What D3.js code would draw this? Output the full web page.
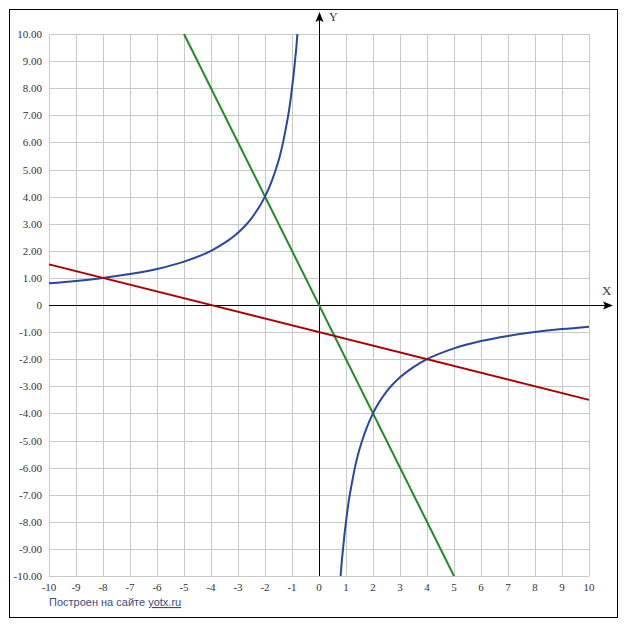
<!DOCTYPE html>
<html>
<head>
<meta charset="utf-8">
<script src="https://cdn.jsdelivr.net/npm/d3@7"></script>
<style>
  body { margin: 0; background: #fff; }
  .tick-label { font-family: "Liberation Serif", serif; font-size: 11px; fill: #333; }
</style>
</head>
<body>
<script>
// axis ranges and tick labels
var xTicks = [-10,-9,-8,-7,-6,-5,-4,-3,-2,-1,0,1,2,3,4,5,6,7,8,9,10];
var yTicks = [-10,-9,-8,-7,-6,-5,-4,-3,-2,-1,0,1,2,3,4,5,6,7,8,9,10];

// blue curve, left branch
var blueLeftX = [-10,-9,-8,-7,-6,-5,-4,-3.5,-3,-2.5,-2,-1.75,-1.6,-1.45,-1.33,-1.2,-1.14,-1.05,-1,-0.94,-0.89,-0.84,-0.8];
var blueLeftY = [0.8,0.89,1,1.14,1.33,1.6,2,2.29,2.67,3.2,4,4.57,5,5.5,6,6.67,7,7.6,8,8.5,9,9.5,10];
// blue curve, right branch
var blueRightX = [0.8,0.84,0.89,0.94,1,1.05,1.14,1.2,1.33,1.45,1.6,1.75,2,2.5,3,3.5,4,5,6,7,8,9,10];
var blueRightY = [-10,-9.5,-9,-8.5,-8,-7.6,-7,-6.67,-6,-5.5,-5,-4.57,-4,-3.2,-2.67,-2.29,-2,-1.6,-1.33,-1.14,-1,-0.89,-0.8];
// green line
var greenX = [-5, 5];
var greenY = [10, -10];
// red line
var redX = [-10, 10];
var redY = [1.5, -3.5];

var W = 627, H = 630;
var pLeft = 49, pRight = 589, pTop = 34, pBottom = 576;

var svg = d3.select("body").append("svg").attr("width", W).attr("height", H);

var x = d3.scaleLinear().domain([-10, 10]).range([pLeft, pRight]);
var y = d3.scaleLinear().domain([-10, 10]).range([pBottom, pTop]);

// frame
svg.append("rect").attr("x", 9.5).attr("y", 9.5).attr("width", 608).attr("height", 608)
  .attr("fill", "none").attr("stroke", "#000").attr("stroke-width", 1);

// grid
var grid = svg.append("g").attr("stroke", "#c8c8c8").attr("stroke-width", 1);
grid.selectAll(".gx").data(xTicks).enter().append("line")
  .attr("x1", function(d){ return Math.round(x(d)) + 0.5; })
  .attr("x2", function(d){ return Math.round(x(d)) + 0.5; })
  .attr("y1", pTop).attr("y2", pBottom);
grid.selectAll(".gy").data(yTicks).enter().append("line")
  .attr("y1", function(d){ return Math.round(y(d)) + 0.5; })
  .attr("y2", function(d){ return Math.round(y(d)) + 0.5; })
  .attr("x1", pLeft).attr("x2", pRight);

// tick labels
svg.selectAll(".yl").data(yTicks).enter().append("text")
  .attr("class", "tick-label")
  .attr("x", 42).attr("y", function(d){ return y(d) + 4; })
  .attr("text-anchor", "end")
  .text(function(d){ return d == 0 ? "0" : d.toFixed(2); });
svg.selectAll(".xl").data(xTicks).enter().append("text")
  .attr("class", "tick-label")
  .attr("x", function(d){ return x(d); }).attr("y", pBottom + 15)
  .attr("text-anchor", "middle")
  .text(function(d){ return d; });

// axes with arrows
var ox = Math.round(x(0)) + 0.5, oy = Math.round(y(0)) + 0.5;
svg.append("line").attr("x1", pLeft).attr("x2", 606).attr("y1", oy).attr("y2", oy)
  .attr("stroke", "#000").attr("stroke-width", 1);
svg.append("path").attr("d", "M" + 613 + "," + oy + "L" + 603 + "," + (oy - 4) + "L" + 605 + "," + oy + "L" + 603 + "," + (oy + 4) + "Z")
  .attr("fill", "#000");
svg.append("line").attr("x1", ox).attr("x2", ox).attr("y1", pBottom).attr("y2", 19)
  .attr("stroke", "#000").attr("stroke-width", 1);
svg.append("path").attr("d", "M" + ox + "," + 12 + "L" + (ox - 4) + "," + 22 + "L" + ox + "," + 20 + "L" + (ox + 4) + "," + 22 + "Z")
  .attr("fill", "#000");
svg.append("text").attr("x", 329).attr("y", 21).attr("class", "tick-label")
  .style("font-size", "12px").text("Y");
svg.append("text").attr("x", 602).attr("y", 295).attr("class", "tick-label")
  .style("font-size", "13px").text("X");

// plotted curves
var plot = svg.append("g");
function zipXY(xs, ys){ return xs.map(function(v, i){ return [v, ys[i]]; }); }
var line = d3.line().x(function(d){ return x(d[0]); }).y(function(d){ return y(d[1]); });
var curve = d3.line().x(function(d){ return x(d[0]); }).y(function(d){ return y(d[1]); }).curve(d3.curveMonotoneX);

plot.append("path").attr("d", line(zipXY(greenX, greenY)))
  .attr("fill", "none").attr("stroke", "#238a23").attr("stroke-width", 2);
plot.append("path").attr("d", curve(zipXY(blueLeftX, blueLeftY)))
  .attr("fill", "none").attr("stroke", "#2946a0").attr("stroke-width", 2);
plot.append("path").attr("d", curve(zipXY(blueRightX, blueRightY)))
  .attr("fill", "none").attr("stroke", "#2946a0").attr("stroke-width", 2);
plot.append("path").attr("d", line(zipXY(redX, redY)))
  .attr("fill", "none").attr("stroke", "#a80000").attr("stroke-width", 2);

// credit
var credit = svg.append("text").attr("x", 49).attr("y", 606)
  .style("font-family", "'Liberation Sans', sans-serif").style("font-size", "11px").attr("fill", "#3a4a7a");
credit.append("tspan").text("Построен на сайте ");
credit.append("tspan").attr("text-decoration", "underline").text("yotx.ru");
</script>
</body>
</html>
